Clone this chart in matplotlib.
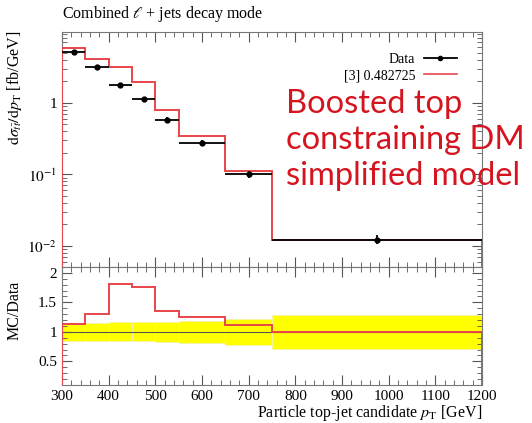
import matplotlib
matplotlib.use('Agg')
import matplotlib.pyplot as plt
from matplotlib.ticker import FixedLocator, FuncFormatter, MultipleLocator, LogLocator
from matplotlib.lines import Line2D
import numpy as np

# bin edges in particle top-jet candidate pT [GeV]
edges = [300, 350, 400, 450, 500, 550, 650, 750, 1200]
# measured data, dsigma/dpT [fb/GeV]
data_vals = [5.1, 3.16, 1.76, 1.11, 0.575, 0.278, 0.101, 0.0123]
# relative uncertainty on data (yellow band in the ratio)
data_relerr = [0.15, 0.15, 0.16, 0.16, 0.17, 0.18, 0.22, 0.29]
# MC prediction "[3] 0.482725"
mc_vals = [5.8, 4.12, 3.2, 1.95, 0.78, 0.348, 0.113, 0.0123]

plt.rcParams['font.family'] = 'Liberation Serif'
plt.rcParams['mathtext.fontset'] = 'stix'
plt.rcParams['font.size'] = 11

edges = np.array(edges, dtype=float)
data_vals = np.array(data_vals)
data_relerr = np.array(data_relerr)
mc_vals = np.array(mc_vals)
centers = 0.5 * (edges[:-1] + edges[1:])
halfw = 0.5 * (edges[1:] - edges[:-1])
ratio = mc_vals / data_vals

fig = plt.figure(figsize=(5.32, 4.23), dpi=100)
L, R = 62 / 532, 482 / 532
ax = fig.add_axes([L, 1 - 267 / 423, R - L, (267 - 32) / 423])
axr = fig.add_axes([L, 1 - 385 / 423, R - L, (385 - 267) / 423])

red = '#e8454a'
frame = '#777777'

# main panel
ax.stairs(mc_vals, edges, color=red, lw=1.4, zorder=3)
ax.errorbar(centers, data_vals, xerr=halfw, yerr=data_vals * data_relerr * 0.5,
            fmt='o', color='black', ms=3.5, elinewidth=1.3, capsize=0, zorder=4)
ax.set_yscale('log')
ax.set_xlim(300, 1200)
ax.set_ylim(5.1e-3, 9.7)


def log_fmt(v, pos):
    e = int(round(np.log10(v)))
    if e == 0:
        return '1'
    return r'$10^{%d}$' % e


ax.yaxis.set_major_locator(LogLocator(base=10, numticks=10))
ax.yaxis.set_major_formatter(FuncFormatter(log_fmt))
ax.yaxis.set_minor_locator(LogLocator(base=10, subs=np.arange(2, 10), numticks=10))
ax.yaxis.set_minor_formatter(FuncFormatter(lambda v, p: ''))
ax.xaxis.set_major_locator(MultipleLocator(100))
ax.xaxis.set_minor_locator(MultipleLocator(20))
ax.tick_params(axis='x', labelbottom=False)

data_handle = Line2D([], [], color='black', lw=1.3, marker='o', ms=3)
mc_handle = Line2D([], [], color=red, lw=1.2)
ax.legend([data_handle, mc_handle], ['Data', '[3] 0.482725'],
          loc='upper right', bbox_to_anchor=(0.97, 0.965), frameon=False,
          markerfirst=False, fontsize=10, handlelength=2.4,
          handletextpad=0.6, labelspacing=0.25)

# ratio panel
for i in range(len(centers)):
    axr.fill_between([edges[i], edges[i + 1]], 1 - data_relerr[i], 1 + data_relerr[i],
                     color='#ffff00', edgecolor='#f2f2b0', lw=0.6, zorder=1)
axr.axhline(1.0, color='#555555', lw=0.8, zorder=2)
axr.stairs(ratio, edges, color=red, lw=1.4, zorder=3)
axr.set_xlim(300, 1200)
axr.set_ylim(0.1, 2.1)
axr.xaxis.set_major_locator(MultipleLocator(100))
axr.xaxis.set_minor_locator(MultipleLocator(20))
axr.yaxis.set_major_locator(FixedLocator([0.5, 1.0, 1.5, 2.0]))
axr.yaxis.set_major_formatter(FuncFormatter(lambda v, p: '%g' % v))
axr.yaxis.set_minor_locator(MultipleLocator(0.1))

for a in (ax, axr):
    a.tick_params(which='both', direction='in', top=True, right=True, color='#555555')
    a.tick_params(which='major', length=7, width=0.8)
    a.tick_params(which='minor', length=3.5, width=0.6)
    for s in a.spines.values():
        s.set_color(frame)
        s.set_linewidth(0.8)

# labels
fig.text(L, 1 - 14 / 423, r'Combined $\ell$ + jets decay mode', ha='left', va='center', fontsize=11.5)
fig.text(15 / 532, 1 - 31 / 423, r'$\mathrm{d}\sigma_{t\bar{t}}/\mathrm{d}p_\mathrm{T}$ [fb/GeV]',
         rotation=90, ha='center', va='top', fontsize=11.5)
fig.text(15 / 532, 1 - 281 / 423, 'MC/Data', rotation=90, ha='center', va='top', fontsize=11.5)
fig.text(R, 1 - 413 / 423, r'Particle top-jet candidate $p_\mathrm{T}$ [GeV]',
         ha='right', va='center', fontsize=11.5)

# overlay annotation
fig.text(286 / 532, 1 - 89 / 423, 'Boosted top\nconstraining DM\nsimplified model',
         ha='left', va='top', color='#d4141f', fontsize=23.5, family='Lato',
         linespacing=1.25)

fig.savefig('out.png', dpi=100)
